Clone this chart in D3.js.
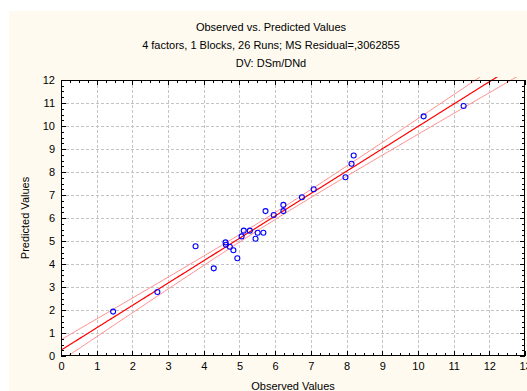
<!DOCTYPE html>
<html><head><meta charset="utf-8">
<script src="https://cdn.jsdelivr.net/npm/d3@7"></script>
<style>
html,body{margin:0;padding:0;background:#fff;}
text{font-family:Arial,"Liberation Sans",sans-serif;fill:#000;}
</style></head>
<body>
<svg id="c" width="527" height="391"></svg>
<script>
const titleLines = ["Observed vs. Predicted Values", "4 factors, 1 Blocks, 26 Runs; MS Residual=,3062855", "DV: DSm/DNd"];
const xLabel = "Observed Values";
const yLabel = "Predicted Values";
const xTicks = [0,1,2,3,4,5,6,7,8,9,10,11,12,13];
const yTicks = [0,1,2,3,4,5,6,7,8,9,10,11,12];
const observed  = [1.46,2.70,3.77,4.28,4.61,4.62,4.73,4.83,4.94,5.06,5.12,5.29,5.45,5.51,5.67,5.73,5.96,6.23,6.23,6.75,7.08,7.97,8.14,8.20,10.16,11.28];
const predicted = [1.93,2.78,4.77,3.81,4.94,4.84,4.75,4.60,4.25,5.20,5.45,5.45,5.10,5.36,5.36,6.30,6.13,6.57,6.30,6.90,7.25,7.77,8.36,8.72,10.42,10.87];

const svg = d3.select("#c");
const W = 527, H = 391;
const m = {left:61, right:525, top:80, bottom:356};
svg.append("rect").attr("x",9).attr("y",11).attr("width",W-9).attr("height",H-11).attr("fill","#fefaef");

const x = d3.scaleLinear().domain([0,13]).range([m.left,m.right]);
const y = d3.scaleLinear().domain([0,12]).range([m.bottom,m.top]);

svg.append("rect").attr("x",m.left).attr("y",m.top).attr("width",m.right-m.left).attr("height",m.bottom-m.top).attr("fill","#fff");

// grid
const grid = svg.append("g").attr("stroke","#c4c4c4").attr("stroke-dasharray","3,2").attr("stroke-width",1);
xTicks.slice(1,-1).forEach(t=>grid.append("line").attr("x1",Math.round(x(t))+0.5).attr("x2",Math.round(x(t))+0.5).attr("y1",m.top).attr("y2",m.bottom));
yTicks.slice(1,-1).forEach(t=>grid.append("line").attr("y1",Math.round(y(t))+0.5).attr("y2",Math.round(y(t))+0.5).attr("x1",m.left).attr("x2",m.right));

// regression + confidence bands
const n = observed.length;
const mx = d3.mean(observed), my = d3.mean(predicted);
let sxx=0, sxy=0;
observed.forEach((v,i)=>{sxx+=(v-mx)**2; sxy+=(v-mx)*(predicted[i]-my);});
const b = sxy/sxx, a = my - b*mx;
let sse=0; observed.forEach((v,i)=>{sse+=(predicted[i]-a-b*v)**2;});
const s = Math.sqrt(sse/(n-2));
const tval = 2.064;
const xs = d3.range(0,13.001,0.05);
const band = (sign)=> xs.map(v=>[v, a+b*v + sign*tval*s*Math.sqrt(1/n + (v-mx)**2/sxx)]);
svg.append("clipPath").attr("id","clip").append("rect").attr("x",m.left).attr("y",m.top-3).attr("width",m.right-m.left).attr("height",m.bottom-m.top+3);
const line = d3.line().x(d=>x(d[0])).y(d=>y(d[1]));
const lg = svg.append("g").attr("clip-path","url(#clip)").attr("fill","none");
lg.append("path").attr("d",line(band(1))).attr("stroke","#ff8c8c").attr("stroke-width",1);
lg.append("path").attr("d",line(band(-1))).attr("stroke","#ff8c8c").attr("stroke-width",1);
lg.append("path").attr("d",line(xs.map(v=>[v,a+b*v]))).attr("stroke","#ff0000").attr("stroke-width",1.2);

// points
svg.append("g").selectAll("circle").data(observed).join("circle")
  .attr("cx",(d)=>x(d)).attr("cy",(d,i)=>y(predicted[i])).attr("r",2.5)
  .attr("fill","none").attr("stroke","#0000ff").attr("stroke-width",1.1);

// frame
svg.append("rect").attr("x",m.left+0.5).attr("y",m.top+0.5).attr("width",m.right-m.left-1).attr("height",m.bottom-m.top-1).attr("fill","none").attr("stroke","#000");

// ticks (inside, on all four sides)
const tk = svg.append("g").attr("stroke","#000").attr("stroke-width",1);
const xMinor = d3.range(0,13.001,0.25), yMinor = d3.range(0,12.001,0.25);
xMinor.forEach(t=>{const L = Number.isInteger(t)?5:3; const px=Math.round(x(t))+0.5;
  tk.append("line").attr("x1",px).attr("x2",px).attr("y1",m.bottom).attr("y2",m.bottom-L);
  tk.append("line").attr("x1",px).attr("x2",px).attr("y1",m.top).attr("y2",m.top+L);});
yMinor.forEach(t=>{const L = Number.isInteger(t)?5:3; const py=Math.round(y(t))+0.5;
  tk.append("line").attr("y1",py).attr("y2",py).attr("x1",m.left).attr("x2",m.left+L);
  tk.append("line").attr("y1",py).attr("y2",py).attr("x1",m.right).attr("x2",m.right-L);});

// tick labels via axes (no lines)
const xa = svg.append("g").attr("transform",`translate(0,${m.bottom})`).call(d3.axisBottom(x).tickValues(xTicks).tickSize(0).tickPadding(6).tickFormat(d3.format("d")));
const ya = svg.append("g").attr("transform",`translate(${m.left},0)`).call(d3.axisLeft(y).tickValues(yTicks).tickSize(0).tickPadding(6).tickFormat(d3.format("d")));
[xa,ya].forEach(g=>{g.select(".domain").remove(); g.selectAll("text").attr("font-size",11).attr("font-family","Arial, 'Liberation Sans', sans-serif");});

// titles
titleLines.forEach((t,i)=>svg.append("text").attr("x",271).attr("y",31+i*18).attr("text-anchor","middle").attr("font-size",11).text(t));
svg.append("text").attr("x",(m.left+m.right)/2).attr("y",390).attr("text-anchor","middle").attr("font-size",11).text(xLabel);
svg.append("text").attr("transform",`translate(29,${(m.top+m.bottom)/2}) rotate(-90)`).attr("text-anchor","middle").attr("font-size",11).text(yLabel);
</script>
</body></html>
